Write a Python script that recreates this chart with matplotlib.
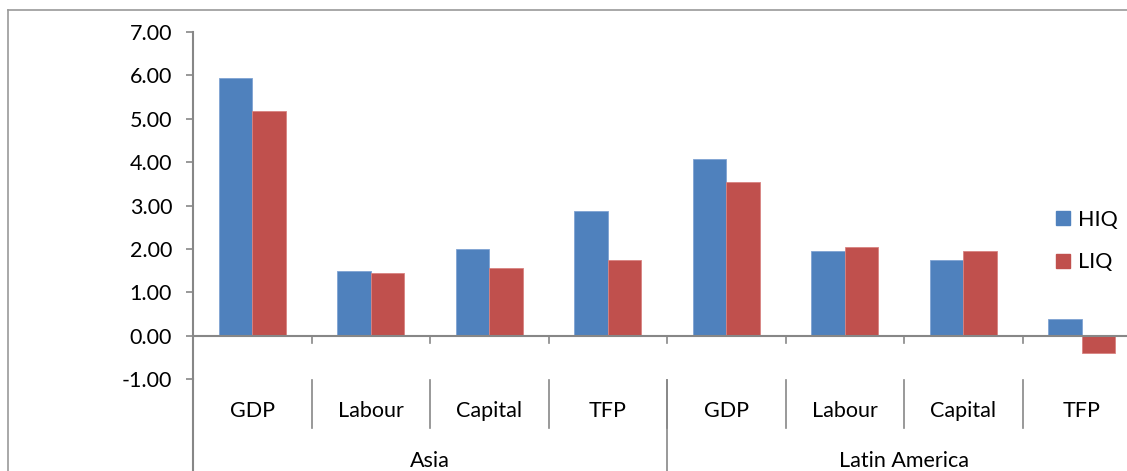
import matplotlib
matplotlib.use("Agg")
import matplotlib.pyplot as plt
import numpy as np
from matplotlib.lines import Line2D
from matplotlib.patches import Patch

# growth accounting values
groups = ["Asia", "Latin America"]
factors = ["GDP", "Labour", "Capital", "TFP"]
hiq = [5.93, 1.50, 2.00, 2.88, 4.08, 1.96, 1.75, 0.38]
liq = [5.18, 1.45, 1.57, 1.75, 3.55, 2.05, 1.94, -0.41]
yticks = [-1, 0, 1, 2, 3, 4, 5, 6, 7]

BLUE = "#4F81BD"
RED = "#C0504D"
GREY = "#878787"
W, H = 1127, 471
FS = 15.5

plt.rcParams["font.family"] = ["Lato", "DejaVu Sans"]

fig = plt.figure(figsize=(W / 100, H / 100), dpi=100)
# axes placed in pixel terms; the plot runs past the right edge like the source
ax = fig.add_axes([193 / W, (H - 379) / H, 948 / W, 347 / H])

x = np.arange(len(hiq))
bw = 0.284
ax.bar(x - bw / 2, hiq, bw, color=BLUE, edgecolor="#7FA3D3", linewidth=0.6, label="HIQ")
ax.bar(x + bw / 2, liq, bw, color=RED, edgecolor="#D98380", linewidth=0.6, label="LIQ")

ax.set_xlim(-0.5, len(hiq) - 0.5)
ax.set_ylim(-1, 7)
ax.set_yticks(yticks)
ax.set_yticklabels([f"{v:.2f}" for v in yticks], fontsize=FS)
ax.set_xticks([])
ax.tick_params(axis="y", length=5, width=1.2, color=GREY, pad=10)

for s in ["top", "right", "bottom"]:
    ax.spines[s].set_visible(False)
ax.spines["left"].set_color(GREY)
ax.spines["left"].set_linewidth(1.5)

# category axis at zero
ax.axhline(0, color=GREY, lw=1.5, zorder=3)
xt = ax.get_xaxis_transform()
bounds = np.arange(len(hiq) + 1) - 0.5
for b in bounds[1:]:
    ax.plot([b, b], [0, -0.18], color=GREY, lw=1.2, clip_on=False)

# multi-level labels
for b in bounds:
    ax.plot([b, b], [-0.003, -0.141], transform=xt, color=GREY, lw=1.2, clip_on=False)
ax.plot([-0.5, -0.5], [0, -0.3], transform=xt, color=GREY, lw=1.5, clip_on=False)
ax.plot([3.5, 3.5], [-0.003, -0.3], transform=xt, color=GREY, lw=1.2, clip_on=False)

labels = factors * len(groups)
for i, lab in enumerate(labels):
    ax.text(i, -0.092, lab, transform=xt, ha="center", va="center", fontsize=FS)
for g, name in enumerate(groups):
    ax.text(g * 4 + 1.5, -0.235, name, transform=xt, ha="center", va="center", fontsize=FS)

# legend
handles = [Patch(color=BLUE, label="HIQ"), Patch(color=RED, label="LIQ")]
fig.legend(handles=handles, loc="center left", bbox_to_anchor=(1056 / W, 1 - 241 / H),
           frameon=False, fontsize=FS, handlelength=0.65, handleheight=0.65,
           handletextpad=0.35, labelspacing=1.05, borderpad=0, borderaxespad=0)

# chart area border
fig.add_artist(Line2D([8 / W, 8 / W], [0, 1 - 10 / H], color="#9A9A9A", lw=1.2))
fig.add_artist(Line2D([8 / W, 1], [1 - 10 / H, 1 - 10 / H], color="#9A9A9A", lw=1.2))

fig.savefig("out.png", dpi=100)
